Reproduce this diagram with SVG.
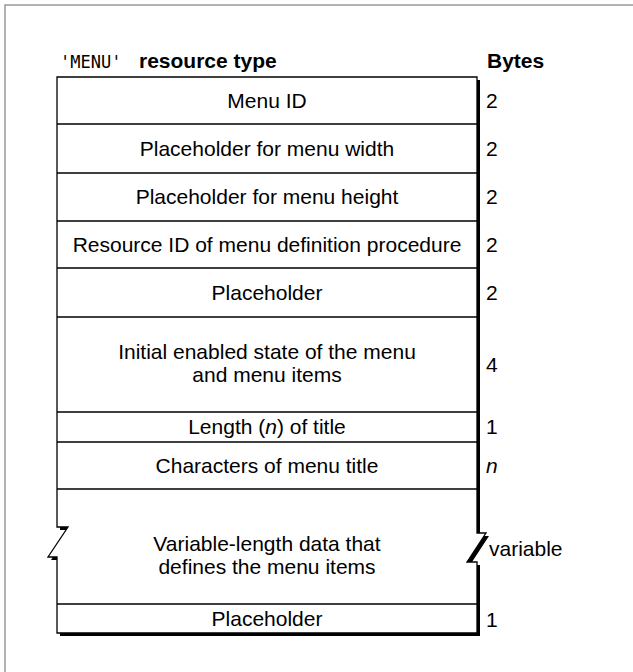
<svg xmlns="http://www.w3.org/2000/svg" width="633" height="672" viewBox="0 0 633 672">
  <style>
    .cell { font-family: "Liberation Sans", Arial, Helvetica, sans-serif; font-size: 21px; fill: #000; text-anchor: middle; }
    .bytes { font-family: "Liberation Sans", Arial, Helvetica, sans-serif; font-size: 21px; fill: #000; }
    .head { font-family: "Liberation Sans", Arial, Helvetica, sans-serif; font-size: 21px; font-weight: bold; fill: #000; }
    .mono { font-family: "DejaVu Sans Mono", "Liberation Mono", monospace; font-size: 17px; fill: #000; }
    .rule { stroke: #000; stroke-width: 1.3; fill: none; }
    .frame { stroke: #9a9a9a; stroke-width: 1.5; fill: none; }
  </style>
  <defs>
    <!-- outline of the record, with break marks on both sides of the variable part -->
    <path id="outline" d="M57,77 H477 V533 H486 L467,562 H477 V633 H57 V557 H48 L68,527 H57 Z"/>
  </defs>

  <rect width="633" height="672" fill="#fff"/>
  <path class="frame" d="M5,672 V5 H633"/>

  <!-- header -->
  <g id="header">
    <text class="mono" x="60" y="68">'MENU'</text>
    <text class="head" x="139" y="68">resource type</text>
    <text class="head" x="487" y="68">Bytes</text>
  </g>

  <!-- record body: drop shadow, white fill, border -->
  <g id="record">
    <use href="#outline" transform="translate(3,3)" fill="#000"/>
    <use href="#outline" fill="#fff" stroke="#000" stroke-width="1.3"/>
  </g>

  <!-- row dividers -->
  <g id="dividers">
    <path class="rule" d="M57,124 H477 M57,173 H477 M57,221 H477 M57,268 H477 M57,317 H477 M57,412 H477 M57,442 H477 M57,489 H477 M57,604 H477"/>
  </g>

  <g id="menu-id">
    <text class="cell" x="267" y="108">Menu ID</text>
    <text class="bytes" x="486" y="108">2</text>
  </g>
  <g id="menu-width">
    <text class="cell" x="267" y="156">Placeholder for menu width</text>
    <text class="bytes" x="486" y="156">2</text>
  </g>
  <g id="menu-height">
    <text class="cell" x="267" y="204">Placeholder for menu height</text>
    <text class="bytes" x="486" y="204">2</text>
  </g>
  <g id="mdef-id">
    <text class="cell" x="267" y="252">Resource ID of menu definition procedure</text>
    <text class="bytes" x="486" y="252">2</text>
  </g>
  <g id="placeholder-1">
    <text class="cell" x="267" y="300">Placeholder</text>
    <text class="bytes" x="486" y="300">2</text>
  </g>
  <g id="enable-flags">
    <text class="cell" x="267" y="359">Initial enabled state of the menu</text>
    <text class="cell" x="267" y="382">and menu items</text>
    <text class="bytes" x="486" y="372">4</text>
  </g>
  <g id="title-length">
    <text class="cell" x="267" y="434">Length (<tspan font-style="italic">n</tspan>) of title</text>
    <text class="bytes" x="486" y="434">1</text>
  </g>
  <g id="title-chars">
    <text class="cell" x="267" y="473">Characters of menu title</text>
    <text class="bytes" x="486" y="473" font-style="italic">n</text>
  </g>
  <g id="item-data">
    <text class="cell" x="267" y="551">Variable-length data that</text>
    <text class="cell" x="267" y="574">defines the menu items</text>
    <text class="bytes" x="489" y="556">variable</text>
  </g>
  <g id="placeholder-2">
    <text class="cell" x="267" y="626">Placeholder</text>
    <text class="bytes" x="486" y="627">1</text>
  </g>
</svg>
